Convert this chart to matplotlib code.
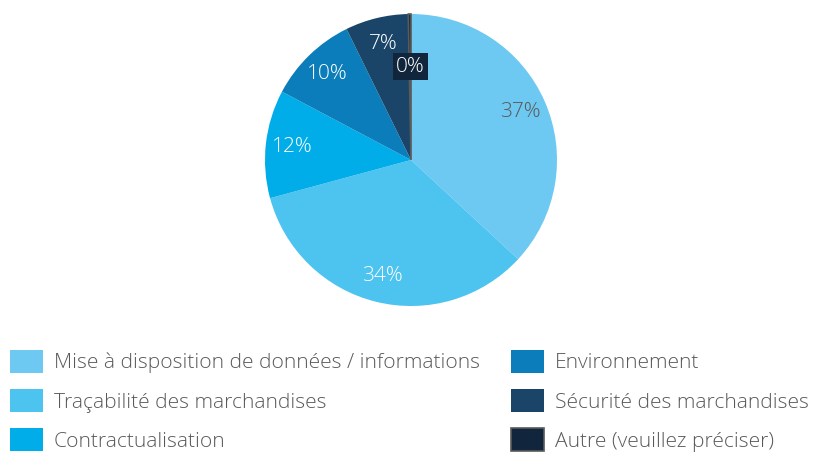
import numpy as np
import matplotlib
matplotlib.use("Agg")
import matplotlib.pyplot as plt

# Données
categories = [
    "Mise à disposition de données / informations",
    "Traçabilité des marchandises",
    "Contractualisation",
    "Environnement",
    "Sécurité des marchandises",
    "Autre (veuillez préciser)",
]
values = [37, 34, 12, 10, 7, 0.3]
pct_labels = ["37%", "34%", "12%", "10%", "7%", "0%"]
colors = ["#6DC9F2", "#4DC3EF", "#00ADE9", "#0A7DBA", "#1A4568", "#11263C"]
label_colors = ["#595959", "white", "white", "white", "white", "white"]

plt.rcParams['font.family'] = ['Open Sans', 'DejaVu Sans']
TEXT = "#595959"

fig = plt.figure(figsize=(8.14, 4.55), dpi=100)
W, H = 814, 455
cx, cy, R = 411, 160, 146
ax = fig.add_axes([(cx - R) / W, (H - cy - R) / H, 2 * R / W, 2 * R / H])

wedges, _ = ax.pie(values, colors=colors, startangle=90, counterclock=False,
                   radius=1, wedgeprops=dict(linewidth=0))
ax.set_xlim(-1, 1)
ax.set_ylim(-1, 1)
ax.set_aspect("equal")
ax.axis("off")
wedges[-1].set_edgecolor("#5A5A5A")
wedges[-1].set_linewidth(1.2)

for i, w in enumerate(wedges):
    ang = np.deg2rad((w.theta1 + w.theta2) / 2)
    r = 0.82 if values[i] >= 1 else 0.64
    kw = {}
    if values[i] < 1:
        kw["bbox"] = dict(boxstyle="square,pad=0.15", fc=colors[i], ec="none")
    ax.text(r * np.cos(ang), r * np.sin(ang), pct_labels[i], ha="center",
            va="center", fontsize=15, color=label_colors[i],
            fontweight="light", **kw)

leg_kw = dict(frameon=False, handlelength=1.55, handleheight=1.3,
              handletextpad=0.55, labelspacing=0.75, labelcolor=TEXT,
              loc="upper left", borderaxespad=0, borderpad=0,
              prop=dict(weight="light", size=15.1))
l1 = fig.legend(wedges[:3], categories[:3], bbox_to_anchor=(10 / W, 1 - 350 / H), **leg_kw)
l2 = fig.legend(wedges[3:], categories[3:], bbox_to_anchor=(511 / W, 1 - 350 / H), **leg_kw)

fig.savefig("out.png", dpi=100, facecolor="white")
